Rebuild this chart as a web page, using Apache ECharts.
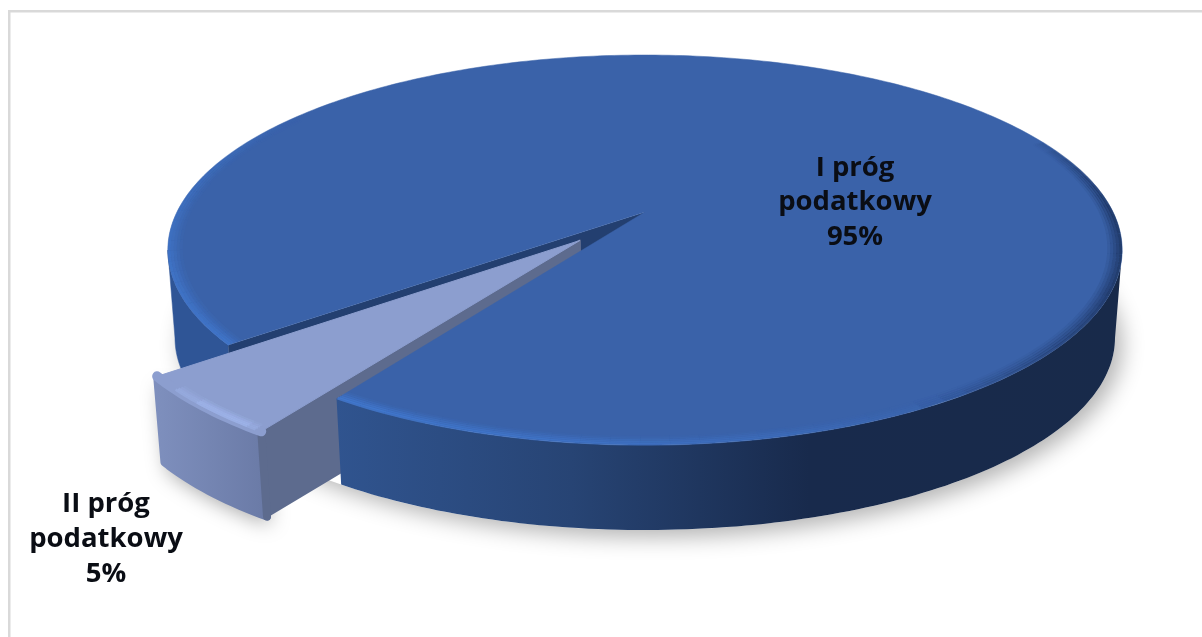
<!DOCTYPE html>
<html><head><meta charset="utf-8">
<style>html,body{margin:0;padding:0;background:#fff}#c{width:1202px;height:637px;filter:blur(.45px)}</style>
<script src="https://cdn.jsdelivr.net/npm/echarts@6/dist/echarts.min.js"></script>
</head><body><div id="c"></div>
<script>
const categories = ['I próg podatkowy', 'II próg podatkowy'];
const values = [95, 5];
const total = values[0] + values[1];

// perspective view of the disc
const CX = 645, CY = 212, A = 468, B = 187.6, K = 0.195;
const DEPTH = 88.5, BOTTOM_SCALE = 0.985;
const START = 33.5, EXPLODE = 0.2;
const rad = d => d * Math.PI / 180;
const SIDE = Math.acos(K) * 180 / Math.PI;   // where the disc's silhouette turns

function proj(X, Y, low) {
  const w = 1 - K * Y, x = A * X / w, y = B * Y / w;
  return low ? [CX + BOTTOM_SCALE * x, CY + DEPTH + BOTTOM_SCALE * y] : [CX + x, CY + y];
}
function rim(a0, a1, r, ox, oy, low) {
  const pts = [], n = Math.max(2, Math.ceil(Math.abs(a1 - a0)));
  for (let i = 0; i <= n; i++) {
    const t = rad(a0 + (a1 - a0) * i / n);
    pts.push(proj(ox - r * Math.sin(t), oy + r * Math.cos(t), low));
  }
  return pts;
}
const band = (a0, a1, ox, oy) => rim(a0, a1, 1, ox, oy, false).concat(rim(a0, a1, 1, ox, oy, true).reverse());
const grad = (x0, x1, stops) => ({type:'linear', x:x0, y:0, x2:x1, y2:0, global:true,
  colorStops: stops.map(s => ({offset:s[0], color:s[1]}))});
const poly = (points, style, z2) => ({type:'polygon', shape:{points}, style, z2, silent:true});
const line = (points, stroke, lineWidth, z2, cap) => ({type:'polyline', shape:{points}, style:{stroke, lineWidth, fill:null, lineJoin:'round', lineCap:cap || 'butt'}, z2, silent:true});

const TOP_BIG = '#3a62a9', TOP_SMALL = '#8c9ecf';
const FONT = 'bold 27.5px "Open Sans", sans-serif';
const labelAnchor = [[855, 168, 34.5], [106, 504, 35]];

function labelEls(i) {
  const [x, y, lh] = labelAnchor[i];
  const words = categories[i].split(' ');
  const lines = [words.slice(0, 2).join(' '), words[2], Math.round(values[i] / total * 100) + '%'];
  return lines.map((t, j) => ({type:'text', z2:60, silent:true,
    style:{text:t, x:x, y:y + lh * j, fill:'#0a0d14', font:FONT, align:'center', verticalAlign:'middle'}}));
}
const ramp = (v, a, b) => Math.max(0, Math.min(1, (v - a) / (b - a)));

// soft rounded edge of the big top face: brightness varies round the rim
function edgeColor(theta) {
  const left = theta < 200 ? 1 - ramp(theta, 72, 125) : 0;
  const front = theta > 300 ? ramp(theta, 322, 392) : 0;
  const dark = theta > 225 && theta < 335 ? Math.min(ramp(theta, 245, 270), 1 - ramp(theta, 292, 332)) : 0;
  return {bright: Math.max(left, front), dark};
}

function renderBig(value) {
  const sweep = 360 * value / total;
  const a0 = START + 360 - sweep, a1 = START + 360;
  const kids = [];
  kids.push(poly(rim(0, 360, 1, 0, 0, true), {fill:'#fff', shadowBlur:22, shadowColor:'rgba(0,0,0,.3)', shadowOffsetX:7, shadowOffsetY:7}, 1));
  kids.push(poly(band(a0, SIDE, 0, 0), {fill:'#2f5596', stroke:'#2f5596', lineWidth:.5}, 3));
  const e = proj(-Math.sin(rad(a0)), Math.cos(rad(a0)), false), el = proj(-Math.sin(rad(a0)), Math.cos(rad(a0)), true);
  kids.push(poly([[CX, CY], e, el, [CX, CY + DEPTH]], {fill:'#233f70'}, 4));
  kids.push(poly(band(360 - SIDE, a1, 0, 0), {fill:grad(335, 1125, [[0,'#30548f'],[.3,'#274474'],[.6,'#182a4c'],[1,'#182a4a']])}, 20));
  const top = rim(a0, a1, 1, 0, 0, false);
  top.push([CX, CY]);
  kids.push(poly(top, {fill:TOP_BIG, stroke:TOP_BIG, lineWidth:.5}, 30));
  const strips = [[.997,.62],[.991,.5],[.985,.36],[.979,.22],[.973,.1]];
  strips.forEach((b, i) => {
    for (let t = a0; t < a1 - .01; t += 3) {
      const c = edgeColor(t + 1.5);
      const seg = rim(t, Math.min(t + 3, a1), b[0], 0, 0, false);
      if (c.bright > 0.01) kids.push(line(seg, `rgba(66,125,215,${(b[1] * c.bright).toFixed(3)})`, 3, 31 + i));
      if (c.dark > 0.01) kids.push(line(seg, `rgba(20,38,75,${(b[1] * c.dark).toFixed(3)})`, 3, 31 + i));
    }
  });
  return kids.concat(labelEls(0));
}

function renderSmall(value) {
  const sweep = 360 * value / total;
  const a0 = START, a1 = START + sweep, mid = rad((a0 + a1) / 2);
  const ox = -EXPLODE * Math.sin(mid), oy = EXPLODE * Math.cos(mid);
  const kids = [];
  const R = .965;
  const wall = rim(a0, a1, R, ox, oy, false).concat(rim(a0, a1, R, ox, oy, true).reverse());
  kids.push(poly(wall.slice(), {fill:'#fff', shadowBlur:20, shadowColor:'rgba(0,0,0,.35)', shadowOffsetX:3, shadowOffsetY:8}, 2));
  const xs = wall.map(p => p[0]);
  const wallFill = grad(Math.min(...xs), Math.max(...xs), [[0,'#7e8fbd'],[1,'#6a7aa6']]);
  kids.push(poly(wall, {fill:wallFill, stroke:wallFill, lineWidth:8, lineJoin:'round'}, 6));
  // visible cut face
  const t = rad(a0), X = ox - R * Math.sin(t), Y = oy + R * Math.cos(t);
  kids.push(poly([proj(ox, oy, false), proj(X, Y, false), proj(X, Y, true), proj(ox, oy, true)], {fill:'#5d6b8e', stroke:'#5d6b8e', lineWidth:2, lineJoin:'round'}, 7));
  kids.push(line([proj(X, Y, false), proj(X, Y, true)], '#5d6b8e', 8, 7, 'round'));
  // top face with rounded corners
  const top = rim(a0, a1, R, ox, oy, false);
  top.push(proj(ox, oy, false));
  kids.push(poly(top, {fill:TOP_SMALL, stroke:TOP_SMALL, lineWidth:1, lineJoin:'round'}, 8));
  kids.push(line(rim(a0, a1, R, ox, oy, false), TOP_SMALL, 10, 8, 'round'));
  // soft highlight along the rounded front edge, tapering towards both corners
  [[1,.3],[.994,.3],[.988,.2],[.982,.1]].forEach((b, i) => {
    kids.push(line(rim(a0 + 2, a1 - 4, R * b[0], ox, oy, false), `rgba(168,192,248,${b[1]})`, 2.5, 9 + i));
    kids.push(line(rim(a0 + .8, a1 - 8, R * b[0], ox, oy, false), `rgba(168,192,248,${b[1]})`, 2.5, 9 + i));
  });
  return kids.concat(labelEls(1));
}

const chart = echarts.init(document.getElementById('c'), null, {renderer:'canvas'});
chart.setOption({
  animation:false,
  backgroundColor:'#ffffff',
  graphic:[
    {type:'rect', shape:{x:8, y:10, width:1194, height:2.5}, style:{fill:'#d9d9d9'}, silent:true},
    {type:'rect', shape:{x:8, y:10, width:2.5, height:627}, style:{fill:'#d9d9d9'}, silent:true}
  ],
  series:[{
    type:'custom', coordinateSystem:'none', silent:true, clip:false,
    data:values.map((v, i) => ({name:categories[i], value:[v]})),
    renderItem:(params, api) => ({type:'group',
      children: params.dataIndex === 0 ? renderBig(api.value(0)) : renderSmall(api.value(0))})
  }]
});
</script></body></html>
